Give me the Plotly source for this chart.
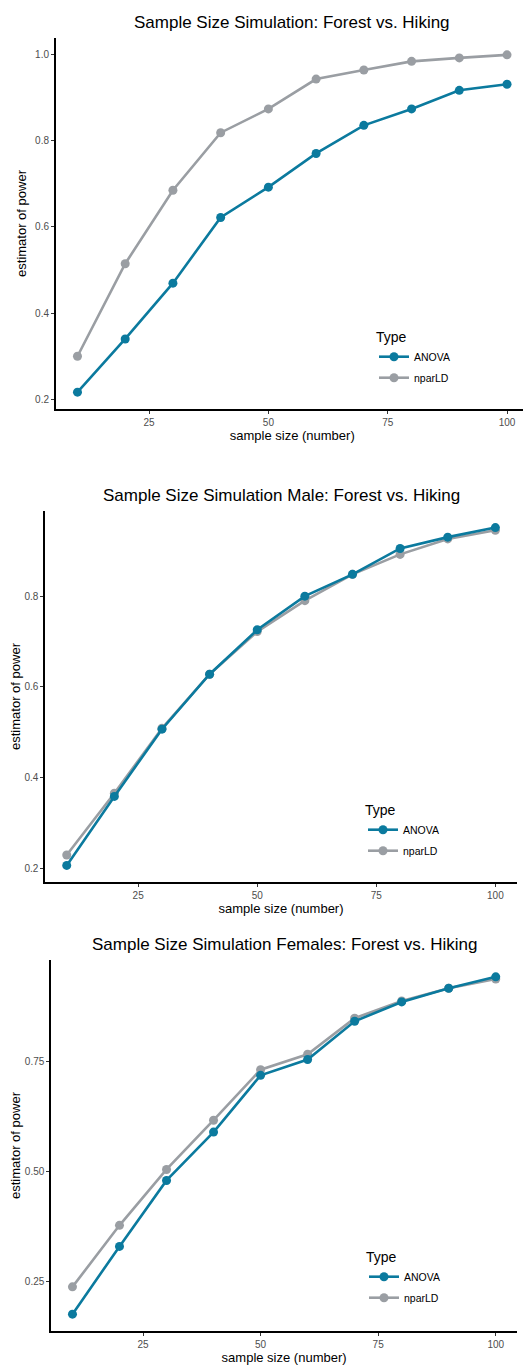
import plotly.graph_objects as go

sample_size = [10, 20, 30, 40, 50, 60, 70, 80, 90, 100]

titles = [
    "Sample Size Simulation: Forest vs. Hiking",
    "Sample Size Simulation Male: Forest vs. Hiking",
    "Sample Size Simulation Females: Forest vs. Hiking",
]

anova_all = [0.218, 0.341, 0.470, 0.622, 0.692, 0.770, 0.835, 0.873, 0.916, 0.930]
nparld_all = [0.301, 0.515, 0.685, 0.818, 0.873, 0.942, 0.963, 0.983, 0.991, 0.998]

anova_male = [0.207, 0.359, 0.507, 0.628, 0.726, 0.800, 0.848, 0.905, 0.930, 0.951]
nparld_male = [0.230, 0.366, 0.509, 0.628, 0.722, 0.790, 0.848, 0.892, 0.926, 0.945]

anova_female = [0.176, 0.330, 0.480, 0.590, 0.719, 0.755, 0.842, 0.886, 0.917, 0.943]
nparld_female = [0.238, 0.378, 0.505, 0.617, 0.732, 0.767, 0.849, 0.888, 0.917, 0.938]

x_ticks = [25, 50, 75, 100]
y_ticks = [
    [0.2, 0.4, 0.6, 0.8, 1.0],
    [0.2, 0.4, 0.6, 0.8],
    [0.25, 0.50, 0.75],
]
y_ticktext = [
    ["0.2", "0.4", "0.6", "0.8", "1.0"],
    ["0.2", "0.4", "0.6", "0.8"],
    ["0.25", "0.50", "0.75"],
]

series = [
    (anova_all, nparld_all),
    (anova_male, nparld_male),
    (anova_female, nparld_female),
]

W, H = 531, 1365
OFF = 8  # page body margin offset
# panel boxes in window pixels: left, right, top, bottom
boxes = [
    (56, 528.5, 38, 409),
    (45.3, 516.8, 510.7, 882.3),
    (51.3, 516.9, 960, 1331),
]
title_y = [22.7, 495.7, 944.3]
legend_pos = [(374, 324), (363, 797), (364, 1244)]

ANOVA_COL = "#0B7A9E"
NPAR_COL = "#9A9EA3"
FONT = "Liberation Sans, Arial, sans-serif"

fig = go.Figure()
layout = dict(
    width=W, height=H,
    margin=dict(l=0, r=0, t=0, b=0),
    paper_bgcolor="white", plot_bgcolor="white",
    font=dict(family=FONT, color="black"),
    showlegend=True,
)
annotations = []

for i, ((an, npl), (l, r, t, b)) in enumerate(zip(series, boxes)):
    l, r, t, b = l - OFF, r - OFF, t - OFF, b - OFF
    xa = "x" if i == 0 else f"x{i+1}"
    ya = "y" if i == 0 else f"y{i+1}"
    leg = "legend" if i == 0 else f"legend{i+1}"
    allv = an + npl
    lo, hi = min(allv), max(allv)
    pad = (hi - lo) * 0.05
    fig.add_trace(go.Scatter(
        x=sample_size, y=npl, mode="lines+markers", name="nparLD",
        line=dict(color=NPAR_COL, width=2.6), marker=dict(color=NPAR_COL, size=9),
        xaxis=xa, yaxis=ya, legend=leg, legendrank=2, legendgroup=f"n{i}",
    ))
    fig.add_trace(go.Scatter(
        x=sample_size, y=an, mode="lines+markers", name="ANOVA",
        line=dict(color=ANOVA_COL, width=2.6), marker=dict(color=ANOVA_COL, size=9),
        xaxis=xa, yaxis=ya, legend=leg, legendrank=1, legendgroup=f"a{i}",
    ))
    xkey = "xaxis" if i == 0 else f"xaxis{i+1}"
    ykey = "yaxis" if i == 0 else f"yaxis{i+1}"
    layout[xkey] = dict(
        domain=[l / W, min(r / W, 1.0)], anchor=ya, range=[5.5, 104.5],
        tickvals=x_ticks, ticks="outside", ticklen=3, tickwidth=1, tickcolor="#333333",
        tickfont=dict(size=10, color="#4D4D4D", family=FONT),
        showline=True, linecolor="black", linewidth=2, showgrid=False, zeroline=False,
        title=dict(text="sample size (number)", font=dict(size=13, color="black", family=FONT), standoff=4),
    )
    layout[ykey] = dict(
        domain=[(H - b) / H, (H - t) / H], anchor=xa, range=[lo - pad, hi + pad],
        tickvals=y_ticks[i], ticktext=y_ticktext[i], ticks="outside", ticklen=3, tickwidth=1,
        tickcolor="#333333", tickfont=dict(size=10, color="#4D4D4D", family=FONT),
        showline=True, linecolor="black", linewidth=2, showgrid=False, zeroline=False,
        title=dict(text="estimator of power", font=dict(size=13, color="black", family=FONT), standoff=6),
    )
    lx, ly = legend_pos[i]
    layout[leg] = dict(
        x=(lx - OFF) / W, y=(H - (ly - OFF)) / H, xanchor="left", yanchor="top",
        title=dict(text="Type", font=dict(size=14, color="black", family=FONT)),
        font=dict(size=10.5, color="black", family=FONT),
        bgcolor="rgba(0,0,0,0)", itemwidth=30, tracegroupgap=2,
    )
    annotations.append(dict(
        text=titles[i], xref="paper", yref="paper",
        x=(l + r) / 2 / W, y=(H - (title_y[i] - OFF)) / H, xanchor="center", yanchor="middle",
        showarrow=False, font=dict(size=17, color="black", family=FONT),
    ))

layout["annotations"] = annotations
fig.update_layout(**layout)
fig.write_html("out.html")
